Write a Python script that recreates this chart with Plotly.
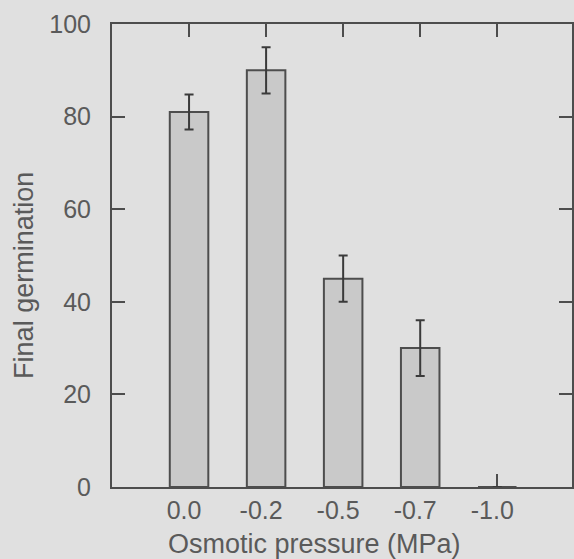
import plotly.graph_objects as go

# Final germination under osmotic stress
pressure_labels = ["0.0", "-0.2", "-0.5", "-0.7", "-1.0"]
germination = [81, 90, 45, 30, 0]
germination_err = [3.8, 5, 5, 6, None]
y_ticks = [0, 20, 40, 60, 80, 100]

BG = "#e0e0e0"
INK = "#4d4d4d"
TXT = "#5a5a5a"
FONT = "Liberation Sans, Arial, sans-serif"

W, H = 574, 559
M_L, M_R, M_T, M_B = 112, 0, 24, 72

fig = go.Figure()
fig.add_trace(go.Bar(
    x=list(range(len(pressure_labels))),
    y=germination,
    width=0.5,
    marker=dict(color="#c9c9c9", line=dict(color=INK, width=2)),
    error_y=dict(type="data", array=germination_err, visible=True,
                 color="#3a3a3a", thickness=2, width=4.5),
))

def px_x(p):
    return (p - M_L) / (W - M_L - M_R)

def px_y(p):
    return (H - M_B - p) / (H - M_T - M_B)

# axis titles placed as annotations
fig.add_annotation(text="Osmotic pressure (MPa)", xref="paper", yref="paper",
                   x=px_x(315), y=px_y(544), xanchor="center", yanchor="middle",
                   showarrow=False, font=dict(size=27, color=TXT))
fig.add_annotation(text="Final germination", xref="paper", yref="paper",
                   x=px_x(23), y=px_y(275.5), xanchor="center", yanchor="middle",
                   textangle=-90, showarrow=False,
                   font=dict(size=27, color=TXT))

fig.update_layout(
    width=W, height=H,
    margin=dict(l=M_L, r=M_R, t=M_T, b=M_B),
    paper_bgcolor=BG, plot_bgcolor=BG,
    showlegend=False,
    font=dict(family=FONT, size=25, color=TXT),
    xaxis=dict(
        range=[-1, 4.97],
        tickmode="array",
        tickvals=list(range(len(pressure_labels))),
        ticktext=pressure_labels,
        ticks="inside", ticklen=13, tickwidth=2, tickcolor=INK,
        showline=True, linecolor=INK, linewidth=2, mirror="allticks",
        showgrid=False, zeroline=False,
        layer="below traces",
        ticklabelstandoff=0,
        ticklabelshift=-5,
    ),
    yaxis=dict(
        range=[0, 100],
        tickmode="array", tickvals=y_ticks,
        ticks="inside", ticklen=13, tickwidth=2, tickcolor=INK,
        showline=True, linecolor=INK, linewidth=2, mirror="allticks",
        showgrid=False, zeroline=False,
        layer="below traces",
        ticklabelstandoff=14,
    ),
)

fig.write_html("out.html")
